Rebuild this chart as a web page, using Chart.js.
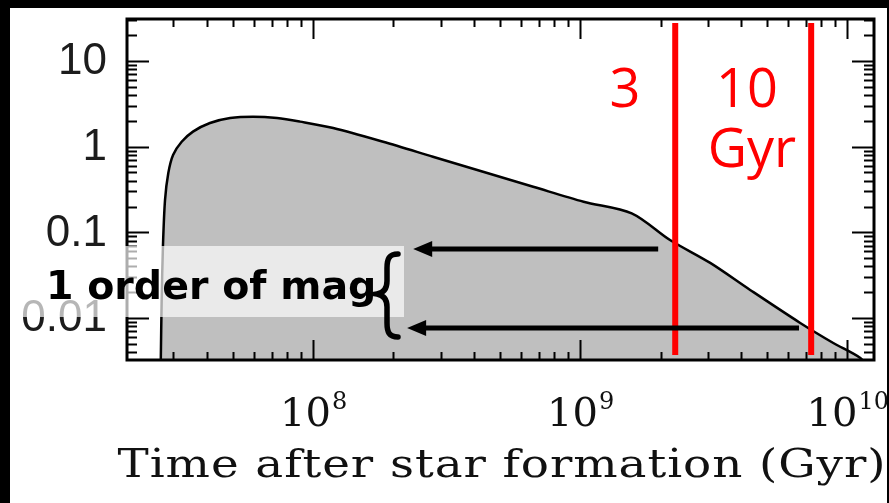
<!DOCTYPE html>
<html lang="en">
<head>
<meta charset="UTF-8">
<title>Time after star formation</title>
<script src="https://cdn.jsdelivr.net/npm/chart.js"></script>
<style>
  html, body { margin: 0; padding: 0; background: #000; overflow: hidden; }
  canvas { display: block; }
</style>
</head>
<body>
<canvas id="sfh" width="889" height="503"></canvas>
<script>
// curve samples (time in yr, log-log)
const times  = [2.69e7, 2.71e7, 2.74e7, 2.79e7, 2.87e7, 2.99e7, 3.22e7, 3.55e7, 4.11e7, 4.89e7, 5.96e7, 7.33e7, 8.94e7,
                1.19e8, 1.83e8, 2.81e8, 4.33e8, 6.67e8, 1.03e9, 1.56e9, 2.17e9, 3.07e9, 4.33e9, 6.67e9, 8.87e9, 1.12e10, 1.20e10];
const values = [0.0032, 0.016, 0.068, 0.239, 0.493, 0.80, 1.14, 1.50, 1.89, 2.16, 2.24, 2.16, 1.96,
                1.65, 1.14, 0.764, 0.51, 0.341, 0.228, 0.167, 0.0815, 0.044, 0.0213, 0.00877, 0.00512, 0.00342, 0.0026];

// axis ticks
const xMajor = [1e8, 1e9, 1e10];
const xExp   = ['8', '9', '10'];
const yMajor = [10, 1, 0.1, 0.01];
const yLabels = ['10', '1', '0.1', '0.01'];

// red age markers and the two arrows
const ageLines  = [2.27e9, 7.33e9];
const ageTop = 27.7, ageBottom = 0.0037;
const arrowY    = [0.064, 0.0077];
const arrowFrom = [1.96e9, 6.6e9];
const arrowTo   = [2.37e8, 2.25e8];

const points = times.map((t, i) => ({ x: t, y: values[i] }));

function drawArrow(ctx, x0, x1, y) {
  ctx.save();
  ctx.strokeStyle = '#000';
  ctx.fillStyle = '#000';
  ctx.lineWidth = 5;
  ctx.beginPath();
  ctx.moveTo(x0, y);
  ctx.lineTo(x1 + 14, y);
  ctx.stroke();
  ctx.beginPath();
  ctx.moveTo(x1, y);
  ctx.lineTo(x1 + 19, y - 8);
  ctx.lineTo(x1 + 19, y + 8);
  ctx.closePath();
  ctx.fill();
  ctx.restore();
}

const decor = {
  id: 'decor',
  beforeDraw(chart) {
    const ctx = chart.ctx;
    ctx.save();
    ctx.fillStyle = '#fff';
    ctx.fillRect(0, 0, chart.width, chart.height);
    ctx.restore();
  },
  afterDraw(chart) {
    const ctx = chart.ctx;
    const a = chart.chartArea;
    const xs = chart.scales.x, ys = chart.scales.y;
    ctx.save();

    // inward ticks on all four sides
    ctx.strokeStyle = '#000';
    ctx.lineWidth = 2;
    ctx.beginPath();
    for (let e = 7; e <= 10; e++) {
      for (let m = 1; m <= 9; m++) {
        const v = m * Math.pow(10, e);
        if (v < xs.min || v > xs.max) continue;
        const px = Math.round(xs.getPixelForValue(v)) + 0.5;
        const len = m === 1 ? 20 : 8;
        ctx.moveTo(px, a.bottom); ctx.lineTo(px, a.bottom - len);
        ctx.moveTo(px, a.top); ctx.lineTo(px, a.top + len);
      }
    }
    for (let e = -3; e <= 1; e++) {
      for (let m = 1; m <= 9; m++) {
        const v = m * Math.pow(10, e);
        if (v < ys.min || v > ys.max) continue;
        const py = Math.round(ys.getPixelForValue(v)) + 0.5;
        const len = m === 1 ? 22 : 10;
        ctx.moveTo(a.left, py); ctx.lineTo(a.left + len, py);
        ctx.moveTo(a.right, py); ctx.lineTo(a.right - len, py);
      }
    }
    ctx.stroke();
    ctx.lineWidth = 3;
    ctx.strokeRect(a.left, a.top, a.right - a.left, a.bottom - a.top);

    // y tick labels
    ctx.fillStyle = '#1c1c1c';
    ctx.font = '44px "Liberation Sans", sans-serif';
    ctx.textAlign = 'right';
    ctx.textBaseline = 'middle';
    yMajor.forEach((v, i) => {
      ctx.fillText(yLabels[i], a.left - 20, ys.getPixelForValue(v) + 1);
    });

    // x tick labels as 10^n
    ctx.fillStyle = '#111';
    ctx.textAlign = 'left';
    ctx.textBaseline = 'alphabetic';
    xMajor.forEach((v, i) => {
      ctx.font = '40px "DejaVu Serif", serif';
      const wBase = ctx.measureText('10').width;
      ctx.font = '24px "DejaVu Serif", serif';
      const wExp = ctx.measureText(xExp[i]).width;
      const x0 = xs.getPixelForValue(v) - (wBase + wExp) / 2;
      ctx.font = '40px "DejaVu Serif", serif';
      ctx.fillText('10', x0, 426);
      ctx.font = '24px "DejaVu Serif", serif';
      ctx.fillText(xExp[i], x0 + wBase + 1, 409);
    });

    // axis title, stretched wide
    ctx.save();
    ctx.font = '40px "DejaVu Serif", serif';
    ctx.letterSpacing = '0.8px';
    ctx.textAlign = 'center';
    ctx.translate(502, 477);
    ctx.scale(1.17, 1);
    ctx.fillText('Time after star formation (Gyr)', 0, 0);
    ctx.restore();

    // red age markers
    ctx.strokeStyle = '#ff0000';
    ctx.lineWidth = 6;
    ctx.beginPath();
    ageLines.forEach(t => {
      const px = xs.getPixelForValue(t);
      ctx.moveTo(px, ys.getPixelForValue(ageTop));
      ctx.lineTo(px, ys.getPixelForValue(ageBottom));
    });
    ctx.stroke();

    // arrows pointing back at the label
    arrowY.forEach((v, i) => {
      drawArrow(ctx, xs.getPixelForValue(arrowFrom[i]), xs.getPixelForValue(arrowTo[i]), Math.round(ys.getPixelForValue(v)));
    });

    // light box behind the label
    ctx.fillStyle = 'rgba(255,255,255,0.68)';
    ctx.fillRect(0, 246, 404, 71);

    ctx.fillStyle = '#000';
    ctx.font = 'bold 39.5px "DejaVu Sans", sans-serif';
    ctx.textAlign = 'left';
    ctx.fillText('1 order of mag', 46, 299);

    // curly brace
    ctx.lineWidth = 5.5;
    ctx.lineCap = 'round';
    ctx.strokeStyle = '#000';
    ctx.beginPath();
    ctx.moveTo(398, 254);
    ctx.bezierCurveTo(389, 254, 387, 259, 387, 268);
    ctx.lineTo(387, 281);
    ctx.bezierCurveTo(387, 289, 383, 293, 377, 294);
    ctx.bezierCurveTo(383, 295, 387, 299, 387, 307);
    ctx.lineTo(387, 323);
    ctx.bezierCurveTo(387, 332, 389, 337, 398, 337);
    ctx.stroke();

    // marker labels
    ctx.fillStyle = '#ff0000';
    ctx.font = '54px "Open Sans", sans-serif';
    ctx.textAlign = 'center';
    ctx.fillText('3', 625, 107);
    ctx.fillText('10', 747, 107);
    ctx.fillText('Gyr', 752, 167);

    // black frame around the figure
    ctx.fillStyle = '#000';
    ctx.fillRect(0, 0, chart.width, 8);
    ctx.fillRect(0, 0, 10, chart.height);
    ctx.fillRect(887, 0, 2, chart.height);
    ctx.restore();
  }
};

new Chart(document.getElementById('sfh'), {
  type: 'line',
  data: {
    datasets: [{
      data: points,
      borderColor: '#000',
      borderWidth: 2.5,
      borderJoinStyle: 'round',
      backgroundColor: '#bfbfbf',
      fill: 'start',
      pointRadius: 0,
      tension: 0.3
    }]
  },
  options: {
    responsive: false,
    animation: false,
    devicePixelRatio: 1,
    layout: { padding: { left: 127, top: 19, right: 15, bottom: 143 } },
    plugins: { legend: { display: false }, tooltip: { enabled: false } },
    scales: {
      x: { type: 'logarithmic', min: 2.01e7, max: 1.26e10, display: false },
      y: { type: 'logarithmic', min: 0.00324, max: 30.9, display: false }
    }
  },
  plugins: [decor]
});
</script>
</body>
</html>
